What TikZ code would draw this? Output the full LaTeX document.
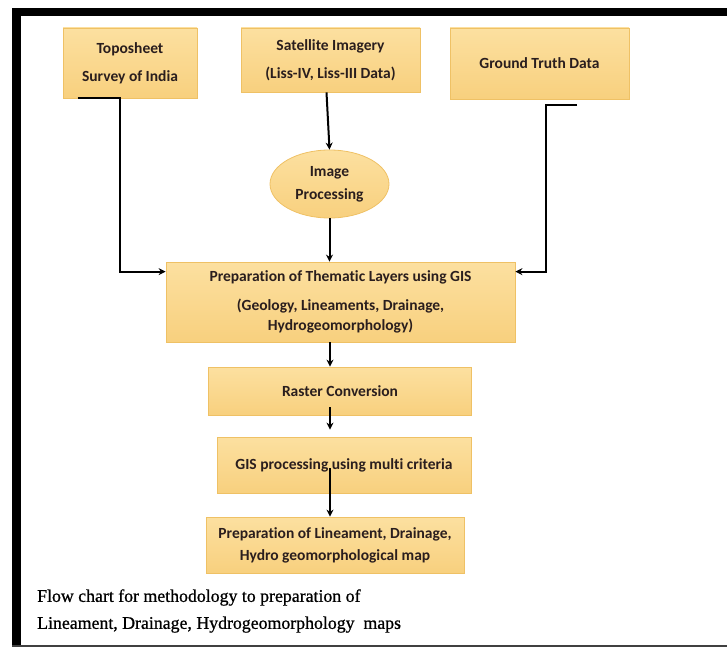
\documentclass[tikz,border=0pt]{standalone}
\usepackage{fontspec}
\setmainfont{Carlito}[Ligatures=NoCommon]
\newfontfamily\capfont{Liberation Serif}[FakeBold=0.8]
\usepackage{tikz}
\usetikzlibrary{shapes,arrows.meta,calc,positioning}
\definecolor{boxtop}{HTML}{FCE0A0}
\definecolor{boxbot}{HTML}{F8D07E}
\definecolor{boxline}{HTML}{EFC165}
\definecolor{boxtext}{HTML}{2A1E1E}

\begin{document}
\begin{tikzpicture}[x=1pt,y=-1pt,
      box/.style={draw=boxline,line width=0.8pt,top color=boxtop,bottom color=boxbot,
        align=center,text=boxtext,inner sep=2pt,font=\bfseries\fontsize{15.5}{18}\selectfont},
      oval/.style={box,ellipse},
      flow/.style={line width=2pt,-{Stealth[length=7pt,width=7pt]}}]
      \useasboundingbox (0,0) rectangle (727,647);
      \fill (12,8) rectangle (727,16);
      \fill (12,8) rectangle (21,647);
      \fill[black!75] (12,645) rectangle (727,647);
      \node[box,minimum width=134,minimum height=70] (topo) at (130,63)
        {Toposheet\\[10pt]Survey of India};
      \node[box,minimum width=179,minimum height=64] (sat) at (330.5,60)
        {Satellite Imagery\\[10pt](Liss-IV, Liss-III Data)};
      \node[box,minimum width=179,minimum height=71] (truth) at (539.5,63.5)
        {Ground Truth Data};
      \node[oval,minimum width=119,minimum height=68] (imgproc) at (329.5,184)
        {Image\\[5pt]Processing};
      \node[box,minimum width=349,minimum height=80] (thematic) at (340.5,302)
        {Preparation of Thematic Layers using GIS\\[11pt](Geology, Lineaments, Drainage,\\[2pt]Hydrogeomorphology)};
      \node[box,minimum width=263,minimum height=48] (raster) at (340,391)
        {Raster Conversion};
      \node[box,minimum width=254,minimum height=56] (gisproc) at (344,465)
        {GIS processing using multi criteria};
      \node[box,minimum width=258,minimum height=56] (final) at (335,545)
        {Preparation of Lineament, Drainage,\\[4pt]Hydro geomorphological map};
      \node[anchor=west,align=left,inner sep=0pt,font=\capfont\fontsize{17.8}{27}\selectfont] (caption) at (37,611)
        {Flow chart for methodology to preparation of\\Lineament, Drainage, Hydrogeomorphology\ \ maps};
      \coordinate (axis) at (330,0);
      \draw[flow] ($(topo.south west)+(15,0)$) -- ++(42,0) |- ($(thematic.north west)+(0,10)$);
      \draw[flow] ($(truth.south)+(37.5,6)$) -- ++(-31,0) |- ($(thematic.north east)+(0,10)$);
      \draw[flow] ($(sat.south)+(-4,0)$) -- (imgproc.north);
      \draw[flow] (imgproc.south) -- (imgproc.south |- thematic.north);
      \draw[flow] (axis |- thematic.south) -- (axis |- raster.north);
      \draw[flow] ($(axis |- raster.south)+(0,-8)$) -- ($(axis |- gisproc.north)+(0,-7)$);
      \draw[flow] ($(axis |- gisproc.center)+(0,3)$) -- (axis |- final.north);
\end{tikzpicture}
\end{document}
